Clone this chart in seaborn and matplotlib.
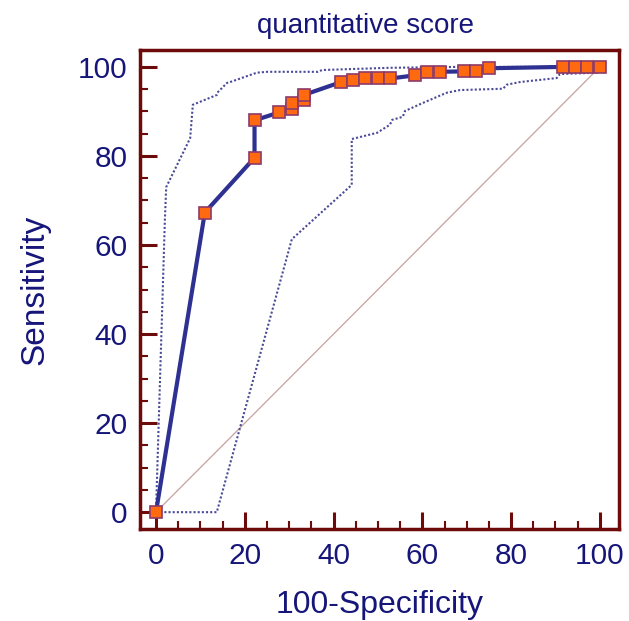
import numpy as np
import pandas as pd
import matplotlib
matplotlib.use("Agg")
import matplotlib.pyplot as plt
import seaborn as sns
from matplotlib.ticker import MultipleLocator

# ROC points (100-specificity, sensitivity)
fpr = [0, 11.0, 22.2, 22.2, 27.8, 30.6, 30.6, 33.3, 33.3, 41.7, 44.4, 47.2, 50.0, 52.8,
       58.3, 61.1, 63.9, 69.4, 72.2, 75.0, 91.7, 94.4, 97.2, 100]
tpr = [0, 67.3, 79.6, 88.0, 89.8, 90.6, 92.0, 92.6, 93.7, 96.6, 97.1, 97.5, 97.5, 97.4,
       98.1, 98.8, 98.9, 99.0, 99.0, 99.7, 100, 100, 100, 100]

# confidence bounds
up_x = [0, 2.0, 2.3, 7.7, 8.3, 13.7, 14.0, 16.0, 16.7, 22.7, 25.0, 36.5, 37.4, 52.7, 67.8, 100]
up_y = [0, 65.6, 73.0, 84.0, 91.5, 93.7, 94.4, 96.4, 96.6, 98.7, 98.9, 98.9, 99.3, 99.8, 100, 100]
lo_x = [0, 13.7, 30.6, 44.1, 44.1, 49.8, 52.7, 53.2, 55.6, 56.1, 60.1, 65.5, 68.5, 78.2,
        79.0, 82.0, 90.3, 91.0, 99.3, 100]
lo_y = [0, 0, 61.3, 73.5, 83.8, 85.2, 87.0, 88.1, 88.8, 90.1, 91.9, 94.2, 94.8, 95.1,
        96.0, 96.6, 97.5, 98.4, 98.7, 100]

navy = "#16167a"
frame = "#6e0a0a"

sns.set_style("white")
plt.rcParams['font.family'] = ['Liberation Sans', 'DejaVu Sans']

fig = plt.figure(figsize=(6.29, 6.21), dpi=100)
ax = fig.add_axes([0.2226, 0.148, 0.7614, 0.7715])

# chance line
sns.lineplot(x=[0, 100], y=[0, 100], ax=ax, color="#c8a0a0", linewidth=0.9)

# confidence bands
band = dict(ax=ax, sort=False, color="#4a4a98", linewidth=1.5)
sns.lineplot(x=up_x, y=up_y, estimator=None, **band)
sns.lineplot(x=lo_x, y=lo_y, estimator=None, **band)
for ln in ax.lines[1:3]:
    ln.set_linestyle((0, (1, 1)))

# ROC curve
sns.lineplot(x=fpr, y=tpr, ax=ax, sort=False, estimator=None, color="#2e3192",
             linewidth=3, marker="s", markersize=9, markerfacecolor="#ff6a10",
             markeredgecolor="#8c3a6a", markeredgewidth=1.2)

ax.set_xlim(-3.6, 104.3)
ax.set_ylim(-3.8, 103.8)
ax.xaxis.set_major_locator(MultipleLocator(20))
ax.xaxis.set_minor_locator(MultipleLocator(5))
ax.yaxis.set_major_locator(MultipleLocator(20))
ax.yaxis.set_minor_locator(MultipleLocator(5))
ax.tick_params(which="major", direction="in", length=12, width=2.2, color=frame,
               labelsize=21.5, labelcolor=navy, pad=9)
ax.tick_params(which="minor", direction="in", length=6, width=1.5, color=frame)
ax.tick_params(bottom=True, left=True, top=False, right=False, which="both")

for s in ax.spines.values():
    s.set_color(frame)
    s.set_linewidth(2.5)

ax.set_xlabel("100-Specificity", fontsize=23, color=navy, labelpad=15)
ax.set_ylabel("Sensitivity", fontsize=24, color=navy, labelpad=20)
ax.set_title("quantitative score", fontsize=20, color=navy, pad=12, x=0.47)

fig.savefig("out.png", dpi=100)
